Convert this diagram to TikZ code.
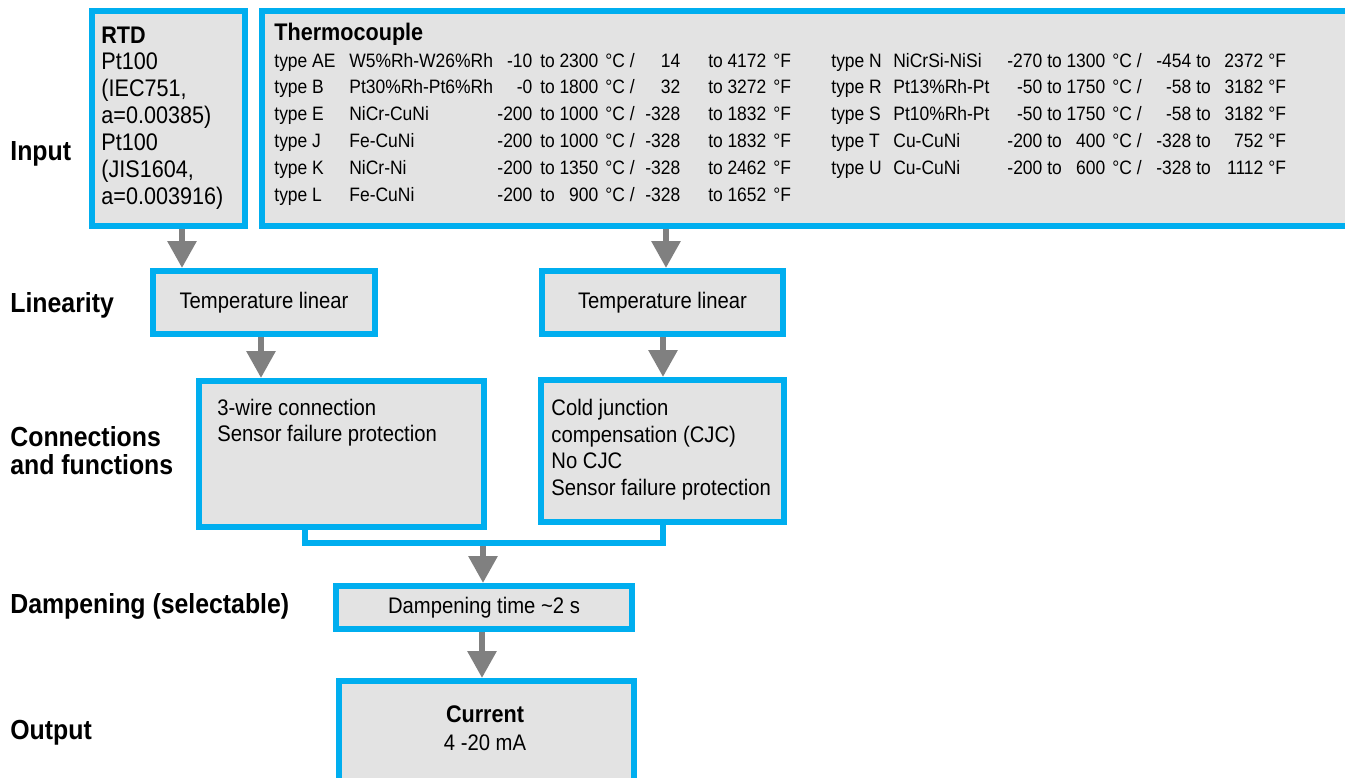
\documentclass[tikz,border=0pt]{standalone}
\usepackage{fontspec}
\setmainfont{Liberation Sans}[FakeStretch=0.9]
\usetikzlibrary{arrows.meta}
\definecolor{bblue}{HTML}{00AEEF}
\definecolor{bfill}{HTML}{E3E3E3}
\definecolor{agray}{HTML}{808080}
\newcommand{\fsLab}{\fontsize{13.8pt}{16pt}\selectfont\bfseries}
\newcommand{\fsHead}{\fontsize{12pt}{14pt}\selectfont\bfseries}
\newcommand{\fsRtd}{\fontsize{12pt}{14pt}\selectfont}
\newcommand{\fsBox}{\fontsize{11.25pt}{13.5pt}\selectfont}
\newcommand{\fsTab}{\fontsize{9.7pt}{13.4pt}\selectfont}
\newcommand{\tcL}[6]{\makebox[37.5pt][l]{type #1}\makebox[91.5pt]{#2\hfill #3}\makebox[33pt]{\hspace{4pt}to\hfill #4}\makebox[41pt]{\hspace{3.5pt}°C /\hfill #5}\makebox[43pt]{\hspace{14pt}to\hfill #6}\hspace{3.5pt}°F}
\newcommand{\tcR}[6]{\makebox[31pt][l]{type #1}\makebox[74.5pt]{#2\hfill #3}\makebox[31.5pt]{\hspace{2.5pt}to\hfill #4}\makebox[43pt]{\hspace{3.5pt}°C /\hfill #5}\makebox[36pt]{\hspace{2.5pt}to\hfill #6}\hspace{2.5pt}°F}
\begin{document}
\begin{tikzpicture}[x=0.5pt,y=-0.5pt,
  box/.style={draw=bblue, fill=bfill, line width=3pt, inner sep=0pt},
  txt/.style={inner sep=0pt, anchor=base west},
  ctxt/.style={inner sep=0pt, anchor=base},
  arr/.style={color=agray, line width=3pt, -{Triangle[width=14pt,length=13.5pt]}},
  conn/.style={draw=bblue, line width=3pt}]
\clip (0,0) rectangle (1345,777);
\fill[white] (0,0) rectangle (1345,777);

% boxes
\node[box, minimum width=76.5pt, minimum height=107.5pt] (rtd) at (168.5,118.5) {};
\node[box, minimum width=545pt, minimum height=107.5pt] (tc) at (807,118.5) {};
\node[box, minimum width=111pt, minimum height=31.5pt, font=\fsBox] (tl1) at (264,302.5) {Temperature linear};
\node[box, minimum width=120.5pt, minimum height=31.5pt, font=\fsBox] (tl2) at (662.5,302.5) {Temperature linear};
\node[box, minimum width=142.5pt, minimum height=73pt] (wire) at (341.5,454) {};
\node[box, minimum width=121.5pt, minimum height=71pt] (cjc) at (662.5,451) {};
\node[box, minimum width=148pt, minimum height=21.5pt, font=\fsBox] (damp) at (484,607.5) {Dampening time \textasciitilde 2 s};
\node[box, minimum width=147.5pt, minimum height=54.5pt] (out) at (486.5,735.5) {};

% arrow x positions
\coordinate (xa) at (182,0);
\coordinate (xb) at (666,0);
\coordinate (xc) at (261,0);
\coordinate (xd) at (663,0);
\coordinate (xj) at (483,0);
\coordinate (xe) at (482,0);
\coordinate (xl) at (305,0);
\coordinate (xr) at (663,0);
\coordinate (yj) at (0,543);

\draw[arr] (xa |- rtd.south) -- (xa |- tl1.north);
\draw[arr] (xb |- tc.south) -- (xb |- tl2.north);
\draw[arr] (xc |- tl1.south) -- (xc |- wire.north);
\draw[arr] (xd |- tl2.south) -- (xd |- cjc.north);
\draw[arr] (xj |- yj) -- (xj |- damp.north);
\draw[arr] (xe |- damp.south) -- (xe |- out.north);
\draw[conn] (xl |- wire.south) -- (xl |- yj) -- (xr |- yj) -- (xr |- cjc.south);

% left labels
\node[txt, font=\fsLab] (lInput) at (10,160) {Input};
\node[txt, font=\fsLab] (lLin) at (10,312) {Linearity};
\node[txt, font=\fsLab] (lCon1) at (10,446) {Connections};
\node[txt, font=\fsLab] (lCon2) at (10,474) {and functions};
\node[txt, font=\fsLab] (lDamp) at (10,613) {Dampening (selectable)};
\node[txt, font=\fsLab] (lOut) at (10,739) {Output};

% RTD
\node[txt, font=\fsHead] (rtdH) at (101,43) {RTD};
\node[txt, font=\fsRtd] (rtd1) at (101,69) {Pt100};
\node[txt, font=\fsRtd] (rtd2) at (101,96) {(IEC751,};
\node[txt, font=\fsRtd] (rtd3) at (101,123) {a=0.00385)};
\node[txt, font=\fsRtd] (rtd4) at (101,150) {Pt100};
\node[txt, font=\fsRtd] (rtd5) at (101,177) {(JIS1604,};
\node[txt, font=\fsRtd] (rtd6) at (101,204) {a=0.003916)};

% Thermocouple
\node[txt, font=\fsHead] (tcH) at (274,40) {Thermocouple};
\node[txt, font=\fsTab] (tAE) at (274,67) {\tcL{AE}{W5\%Rh-W26\%Rh}{-10}{2300}{14}{4172}};
\node[txt, font=\fsTab] (tB) at (274,93.8) {\tcL{B}{Pt30\%Rh-Pt6\%Rh}{-0}{1800}{32}{3272}};
\node[txt, font=\fsTab] (tE) at (274,120.6) {\tcL{E}{NiCr-CuNi}{-200}{1000}{-328}{1832}};
\node[txt, font=\fsTab] (tJ) at (274,147.4) {\tcL{J}{Fe-CuNi}{-200}{1000}{-328}{1832}};
\node[txt, font=\fsTab] (tK) at (274,174.2) {\tcL{K}{NiCr-Ni}{-200}{1350}{-328}{2462}};
\node[txt, font=\fsTab] (tL) at (274,201) {\tcL{L}{Fe-CuNi}{-200}{900}{-328}{1652}};
\node[txt, font=\fsTab] (tN) at (831,67) {\tcR{N}{NiCrSi-NiSi}{-270}{1300}{-454}{2372}};
\node[txt, font=\fsTab] (tR) at (831,93.8) {\tcR{R}{Pt13\%Rh-Pt}{-50}{1750}{-58}{3182}};
\node[txt, font=\fsTab] (tS) at (831,120.6) {\tcR{S}{Pt10\%Rh-Pt}{-50}{1750}{-58}{3182}};
\node[txt, font=\fsTab] (tT) at (831,147.4) {\tcR{T}{Cu-CuNi}{-200}{400}{-328}{752}};
\node[txt, font=\fsTab] (tU) at (831,174.2) {\tcR{U}{Cu-CuNi}{-200}{600}{-328}{1112}};

% connections and functions
\node[txt, font=\fsBox] (w1) at (217,415.5) {3-wire connection};
\node[txt, font=\fsBox] (w2) at (217,441.5) {Sensor failure protection};
\node[txt, font=\fsBox] (c1) at (551,415.5) {Cold junction};
\node[txt, font=\fsBox] (c2) at (551,442.2) {compensation (CJC)};
\node[txt, font=\fsBox] (c3) at (551,468.9) {No CJC};
\node[txt, font=\fsBox] (c4) at (551,495.6) {Sensor failure protection};

% output
\node[ctxt, font=\fsHead] (outH) at (485,722) {Current};
\node[ctxt, font=\fsBox] (out1) at (485,750) {4 -20 mA};
\end{tikzpicture}
\end{document}
